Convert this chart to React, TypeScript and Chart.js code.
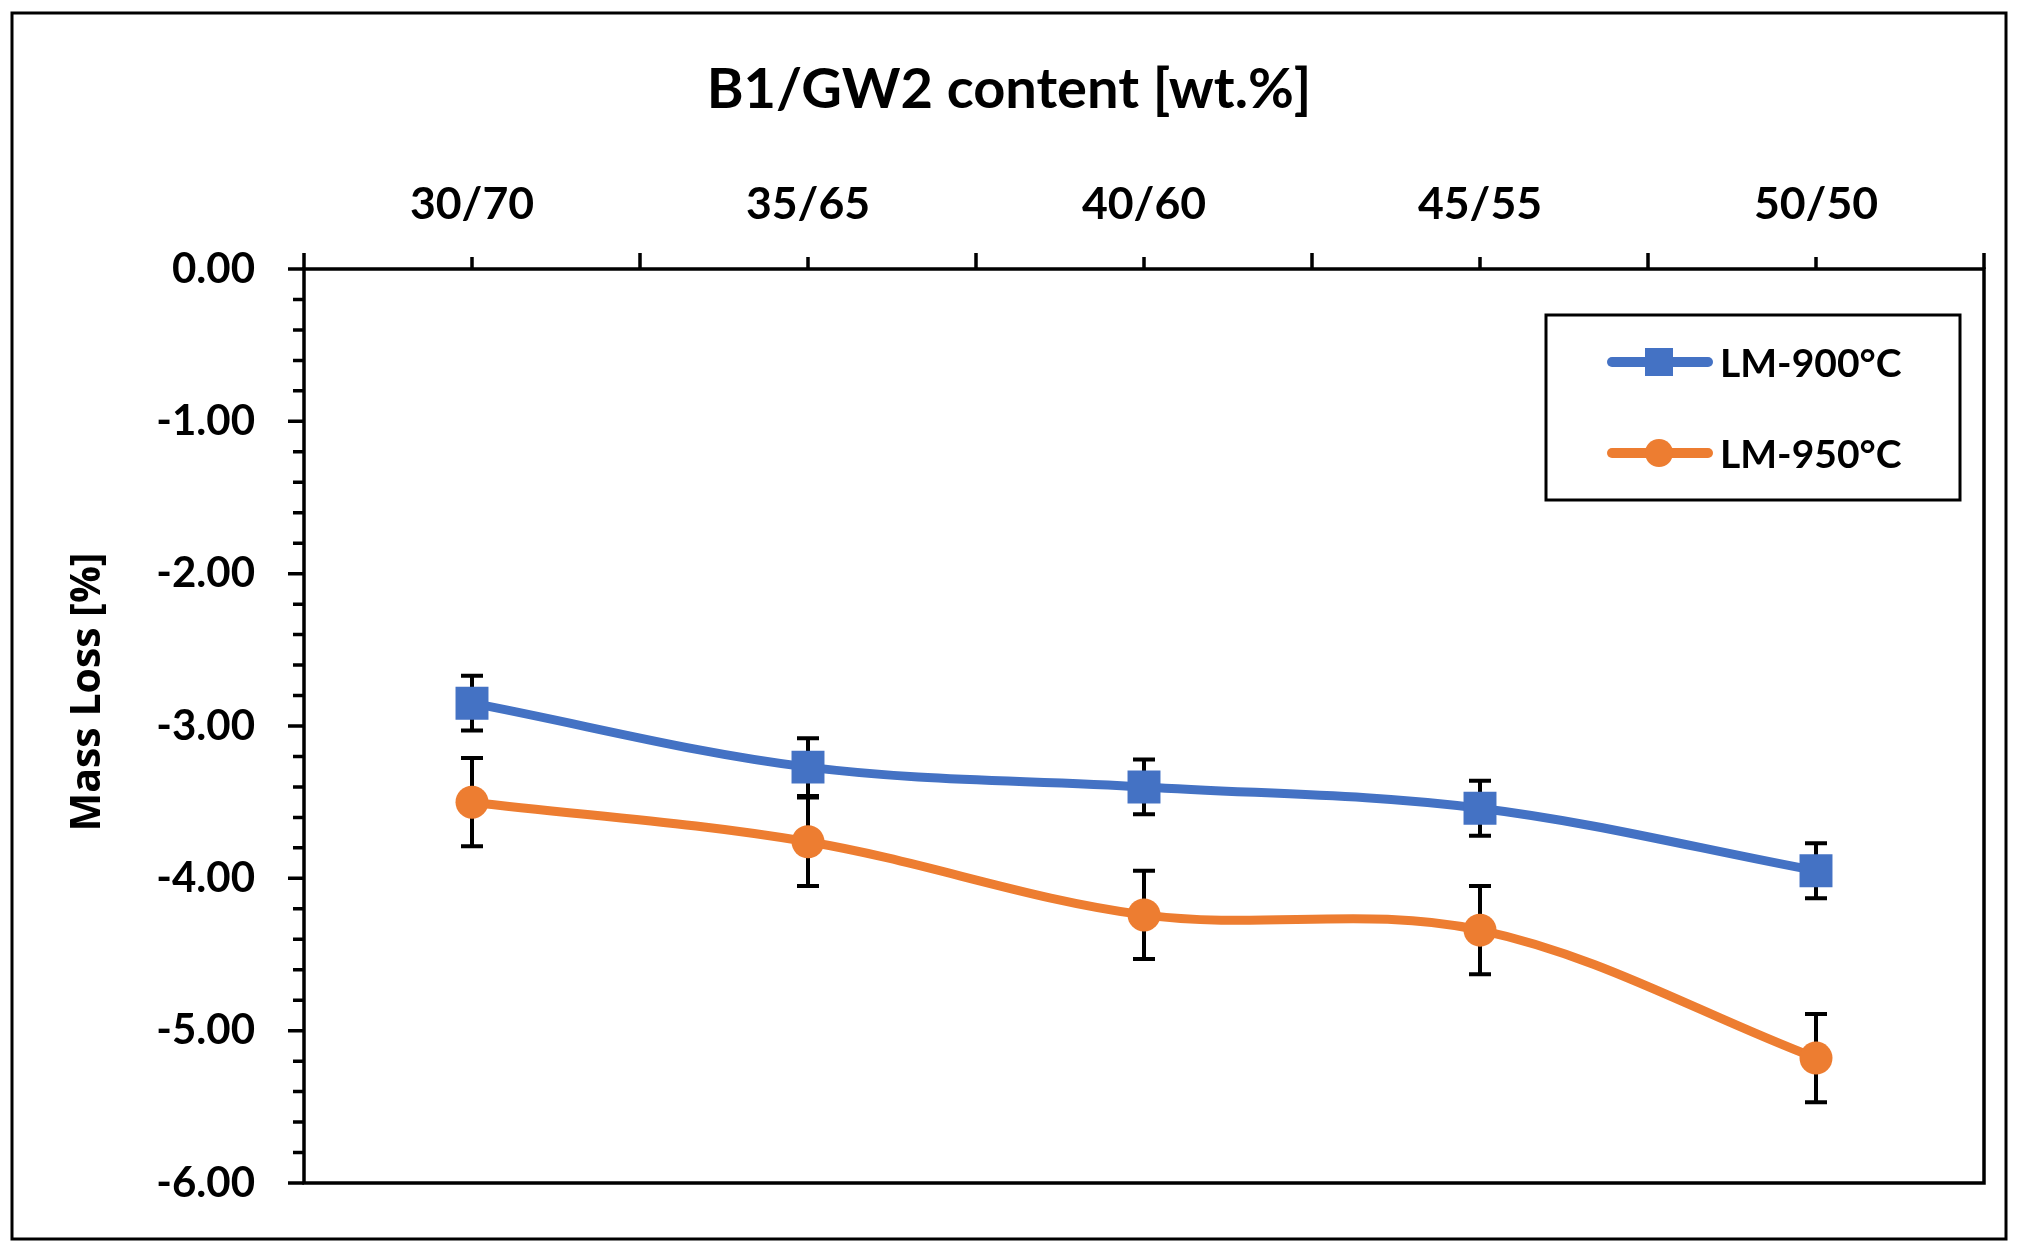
import React, { useEffect, useRef } from 'react';
import { Chart, registerables } from 'chart.js';

Chart.register(...registerables);

// data
const categories = ['30/70', '35/65', '40/60', '45/55', '50/50'];
const lm900 = [-2.85, -3.27, -3.4, -3.54, -3.95];
const lm900Err = [0.18, 0.19, 0.18, 0.18, 0.18];
const lm950 = [-3.5, -3.76, -4.24, -4.34, -5.18];
const lm950Err = [0.29, 0.29, 0.29, 0.29, 0.29];
const seriesNames = ['LM-900°C', 'LM-950°C'];
const xTitle = 'B1/GW2 content [wt.%]';
const yTitle = 'Mass Loss [%]';

const BLUE = '#4472C4';
const ORANGE = '#ED7D31';

// error bars, drawn behind lines and markers
const errorBarPlugin = {
  id: 'errorBars',
  beforeDatasetsDraw(chart: any, _args: any, opts: any) {
    const { ctx } = chart;
    const y = chart.scales.y;
    ctx.save();
    ctx.strokeStyle = '#000';
    ctx.lineWidth = 4;
    chart.data.datasets.forEach((ds: any, di: number) => {
      const errs = opts.errors[di];
      const meta = chart.getDatasetMeta(di);
      meta.data.forEach((pt: any, i: number) => {
        const v = ds.data[i] as number;
        const x = pt.x;
        const yTop = y.getPixelForValue(v + errs[i]);
        const yBot = y.getPixelForValue(v - errs[i]);
        ctx.beginPath();
        ctx.moveTo(x, yTop);
        ctx.lineTo(x, yBot);
        ctx.moveTo(x - 11, yTop);
        ctx.lineTo(x + 11, yTop);
        ctx.moveTo(x - 11, yBot);
        ctx.lineTo(x + 11, yBot);
        ctx.stroke();
      });
    });
    ctx.restore();
  },
};

// frame, plot border, excel-style ticks, legend box and y title
const framePlugin = {
  id: 'frame',
  afterDraw(chart: any) {
    const { ctx, chartArea } = chart;
    const { left, right, top, bottom } = chartArea;
    const x = chart.scales.x;
    const y = chart.scales.y;
    ctx.save();

    // outer chart border
    ctx.strokeStyle = '#000';
    ctx.lineWidth = 3;
    ctx.strokeRect(12, 13, 1994, 1226);

    // plot area border
    ctx.lineWidth = 3.5;
    ctx.strokeRect(left, top, right - left, bottom - top);

    // top category ticks
    ctx.beginPath();
    for (let i = 0; i <= categories.length; i++) {
      const bx = x.getPixelForValue(i - 0.5);
      ctx.moveTo(bx, top - 16);
      ctx.lineTo(bx, top);
    }
    for (let i = 0; i < categories.length; i++) {
      const cx = x.getPixelForValue(i);
      ctx.moveTo(cx, top - 12);
      ctx.lineTo(cx, top);
    }
    ctx.stroke();

    // left value ticks, major every 1, minor every 0.2
    ctx.beginPath();
    for (let k = 0; k <= 30; k++) {
      const v = -k * 0.2;
      const py = y.getPixelForValue(v);
      const len = k % 5 === 0 ? 16 : 11;
      ctx.moveTo(left - len, py);
      ctx.lineTo(left, py);
    }
    ctx.stroke();

    // y axis title
    ctx.save();
    ctx.translate(88, 692);
    ctx.rotate(-Math.PI / 2);
    ctx.fillStyle = '#000';
    ctx.font = 'bold 41px "Open Sans"';
    ctx.textAlign = 'center';
    ctx.textBaseline = 'middle';
    ctx.fillText(yTitle, 0, 0);
    ctx.restore();

    // legend
    ctx.lineWidth = 3;
    ctx.strokeRect(1546, 315, 414, 185);
    const rows = [362, 453];
    chart.data.datasets.forEach((ds: any, di: number) => {
      const ly = rows[di];
      ctx.strokeStyle = ds.borderColor;
      ctx.lineWidth = 10;
      ctx.lineCap = 'round';
      ctx.beginPath();
      ctx.moveTo(1612, ly);
      ctx.lineTo(1708, ly);
      ctx.stroke();
      ctx.fillStyle = ds.borderColor;
      if (ds.pointStyle === 'rect') {
        ctx.fillRect(1659 - 14, ly - 14, 28, 28);
      } else {
        ctx.beginPath();
        ctx.arc(1659, ly, 14, 0, Math.PI * 2);
        ctx.fill();
      }
      ctx.fillStyle = '#000';
      ctx.font = 'bold 39px Lato';
      ctx.textAlign = 'left';
      ctx.textBaseline = 'middle';
      ctx.fillText(ds.label, 1720, ly + 2);
    });

    ctx.restore();
  },
};

const App: React.FC = () => {
  const canvasRef = useRef<HTMLCanvasElement>(null);
  const chartInstance = useRef<Chart | null>(null);

  useEffect(() => {
    if (!canvasRef.current) return;
    if (chartInstance.current) chartInstance.current.destroy();

    chartInstance.current = new Chart(canvasRef.current, {
      type: 'line',
      data: {
        labels: categories,
        datasets: [
          {
            label: seriesNames[0],
            data: lm900,
            borderColor: BLUE,
            backgroundColor: BLUE,
            borderWidth: 9,
            tension: 0.35,
            pointStyle: 'rect',
            pointRadius: 23.3,
            pointBorderWidth: 0,
            pointBackgroundColor: BLUE,
          },
          {
            label: seriesNames[1],
            data: lm950,
            borderColor: ORANGE,
            backgroundColor: ORANGE,
            borderWidth: 9,
            tension: 0.35,
            pointStyle: 'circle',
            pointRadius: 16.5,
            pointBorderWidth: 0,
            pointBackgroundColor: ORANGE,
          },
        ],
      },
      options: {
        animation: false,
        responsive: false,
        devicePixelRatio: 1,
        layout: { padding: { left: 34, right: 34, top: 0, bottom: 67 } },
        plugins: {
          legend: { display: false },
          tooltip: { enabled: false },
          title: {
            display: true,
            text: xTitle,
            color: '#000',
            font: { family: 'Lato', weight: 'bold', size: 56 },
            padding: { top: 56, bottom: 0 },
          },
          errorBars: { errors: [lm900Err, lm950Err] },
        } as any,
        scales: {
          x: {
            type: 'category',
            position: 'top',
            offset: true,
            grid: { display: false, drawTicks: false },
            border: { display: false },
            ticks: {
              color: '#000',
              font: { family: 'Lato', weight: 'bold', size: 44.6 },
              padding: 38,
              maxRotation: 0,
              autoSkip: false,
            },
            afterFit: (s: any) => {
              s.height = 145.8;
              s.paddingLeft = 0;
              s.paddingRight = 0;
            },
          },
          y: {
            min: -6,
            max: 0,
            grid: { display: false, drawTicks: false },
            border: { display: false },
            ticks: {
              stepSize: 1,
              color: '#000',
              font: { family: 'Lato', weight: 'bold', size: 42 },
              padding: 49,
              callback: (v: any) => Number(v).toFixed(2),
            },
            afterFit: (s: any) => {
              s.width = 270;
              s.paddingTop = 0;
              s.paddingBottom = 0;
            },
          },
        },
      },
      plugins: [errorBarPlugin, framePlugin],
    });

    return () => {
      if (chartInstance.current) {
        chartInstance.current.destroy();
        chartInstance.current = null;
      }
    };
  }, []);

  return (
    <div style={{ position: 'fixed', left: 0, top: 0, width: 2018, height: 1250, background: '#fff' }}>
      <canvas ref={canvasRef} width={2018} height={1250} style={{ width: 2018, height: 1250 }} />
    </div>
  );
};

export default App;
